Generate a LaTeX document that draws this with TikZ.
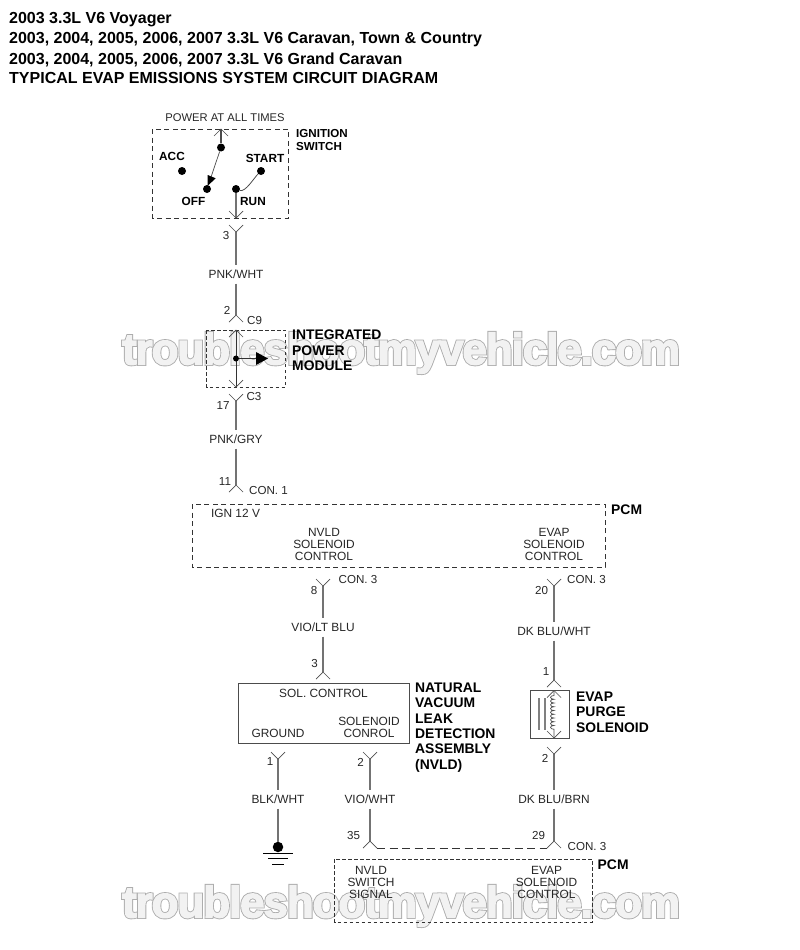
\documentclass[tikz,border=0pt]{standalone}
\usepackage{fontspec}
\setmainfont{Liberation Sans}
\newfontfamily\markfont[FakeBold=7,LetterSpace=-2.5]{Liberation Sans Bold}
\newfontfamily\markfontin[FakeBold=3,LetterSpace=-2.5]{Liberation Sans Bold}
\usetikzlibrary{calc,
	decorations.pathmorphing,
	arrows.meta,
	positioning}
\tikzstyle{lbl}=[inner sep=0, font=\fontsize{11.9}{12}\selectfont, align=center, text=black!85]
\tikzstyle{wlbl}=[lbl, inner xsep=0, inner ysep=4.5pt]
\tikzstyle{pin}=[inner sep=0, font=\fontsize{11.6}{13.5}\selectfont, text=black!85]
\tikzstyle{ttl}=[inner sep=0, anchor=base west, font=\fontsize{16}{20}\selectfont\bfseries]
\tikzstyle{nme}=[inner sep=0, anchor=north west, align=left, font=\fontsize{13.9}{15.4}\selectfont\bfseries]
\tikzstyle{sw}=[inner sep=0, font=\fontsize{11.8}{13.5}\selectfont\bfseries]
\tikzstyle{dot}=[circle, fill=black, inner sep=0, minimum size=8pt]
\tikzstyle{wire}=[draw=black!55, line width=1.1pt]
\tikzstyle{dashbox}=[draw=black!80, line width=0.8pt, dash pattern=on 5pt off 3.5pt]
\tikzstyle{solbox}=[draw=black!70, line width=0.9pt]
\tikzstyle{mrk}=[inner sep=0, anchor=center]
% fork of a connector: up=opens upward, dn=opens downward
\newcommand{\forkup}[1]{\draw[black!70, line width=0.7pt] ($(#1)+(-7,-7)$) -- (#1) -- ($(#1)+(7,-7)$);}
\newcommand{\forkdn}[1]{\draw[black!70, line width=0.7pt] ($(#1)+(-7,7)$) -- (#1) -- ($(#1)+(7,7)$);}
\begin{document}
\begin{tikzpicture}[x=1pt, y=-1pt]
\useasboundingbox (0,0) rectangle (800,950);
% watermark
\foreach \wy/\wname in {353/marka, 906/markb} {
	\node[mrk, text=black!32, font=\markfont\fontsize{44}{44}\selectfont] (\wname) at (401,\wy) {troubleshootmyvehicle.com};
	\node[mrk, text=black!5, font=\markfontin\fontsize{44}{44}\selectfont] (\wname in) at (401,\wy) {troubleshootmyvehicle.com};
}
% title
\node[ttl] (t1) at (9,24) {2003 3.3L V6 Voyager};
\node[ttl] (t2) at (9,44) {2003, 2004, 2005, 2006, 2007 3.3L V6 Caravan, Town \& Country};
\node[ttl] (t3) at (9,64) {2003, 2004, 2005, 2006, 2007 3.3L V6 Grand Caravan};
\node[ttl] (t4) at (9,84) {TYPICAL EVAP EMISSIONS SYSTEM CIRCUIT DIAGRAM};
% ignition switch
\node[lbl, font=\fontsize{11.2}{13.5}\selectfont] (power) at (225,117.5) {POWER AT ALL TIMES};
\draw[dashbox] (152.5,129) rectangle (288.5,218);
\node[nme, font=\fontsize{11.6}{13.2}\selectfont\bfseries] (ign) at (296,129) {IGNITION\\SWITCH};
\node[sw] (acc) at (172,156.5) {ACC};
\node[sw] (start) at (265,158) {START};
\node[sw] (off) at (193.5,201) {OFF};
\node[sw] (run) at (253,201.5) {RUN};
\node[dot] (d1) at (221,147.5) {};
\node[dot] (d2) at (182,171) {};
\node[dot] (d3) at (261,171) {};
\node[dot] (d4) at (207,189) {};
\node[dot] (d5) at (236,189) {};
\coordinate (ptop) at (221,129);
\coordinate (pbot) at (236,218);
\draw[wire, black!70] (ptop) -- (d1);
\forkdn{ptop}
\draw[black!70, line width=0.7pt] (d1) -- (d4);
\fill (207.7,175) -- (215.7,178.3) -- (207.5,186) -- cycle;
\draw[black!70, line width=0.8pt] (d5) to[out=-20, in=225, looseness=0.6] (d3);
\draw[wire] (d5) -- (pbot);
\forkup{pbot}
% PNK/WHT
\coordinate (a1) at (236,232);
\coordinate (a2) at (236,315);
\node[wlbl] (w1) at (236,274.5) {PNK/WHT};
\draw[wire] (a1) -- (w1);
\draw[wire] (w1) -- (a2);
\forkup{a1}
\forkdn{a2}
\node[pin] (p3) at (226,236) {3};
\node[pin] (p2) at (227,310.5) {2};
\node[pin, anchor=west] (c9) at (247,321) {C9};
% integrated power module
\draw[dashbox, dash pattern=on 3.5pt off 2.5pt] (206.5,330) rectangle (285.5,387);
\node[nme] (ipm) at (292,330) {INTEGRATED\\POWER\\MODULE};
\coordinate (m1) at (236,330);
\coordinate (m2) at (236,387);
\draw[black!80, line width=0.9pt] (m1) -- (m2);
\forkdn{m1}
\forkup{m2}
\node[dot, minimum size=6pt] (md) at (236,358.5) {};
\draw[black!80, line width=0.7pt] (md) -- (256,358.5);
\fill (256,352) -- (268,358.5) -- (256,365) -- cycle;
% PNK/GRY
\coordinate (b1) at (236,401);
\coordinate (b2) at (236,485);
\node[wlbl] (w2) at (236,439.5) {PNK/GRY};
\draw[wire] (b1) -- (w2);
\draw[wire] (w2) -- (b2);
\forkup{b1}
\forkdn{b2}
\node[pin] (p17) at (223,405.5) {17};
\node[pin] (p11) at (225,481.5) {11};
\node[pin] (c3) at (254,397) {C3};
\node[pin, anchor=west] (con1) at (249,491) {CON. 1};
% PCM
\draw[dashbox] (192,504) rectangle (605,567);
\node[nme] (pcm1) at (611,504.5) {PCM};
\node[lbl, anchor=north] (ign12) at (235.5,508.5) {IGN 12 V};
\node[lbl, anchor=north] (nvs) at (324,528.5) {NVLD\\SOLENOID\\CONTROL};
\node[lbl, anchor=north] (evs) at (554,528.5) {EVAP\\SOLENOID\\CONTROL};
% VIO/LT BLU
\coordinate (c1) at (323,586);
\coordinate (c2) at (323,672);
\node[wlbl] (w3) at (323,627.5) {VIO/LT BLU};
\draw[wire] (c1) -- (w3);
\draw[wire] (w3) -- (c2);
\forkup{c1}
\forkdn{c2}
\node[pin] (p8) at (314,590) {8};
\node[pin] (p3b) at (314.5,663) {3};
\node[pin, anchor=west] (con3a) at (338.5,579) {CON. 3};
% DK BLU/WHT
\coordinate (e1) at (554,586);
\coordinate (e2) at (554,680);
\node[wlbl] (w4) at (554,631.5) {DK BLU/WHT};
\draw[wire] (e1) -- (w4);
\draw[wire] (w4) -- (e2);
\forkup{e1}
\forkdn{e2}
\node[pin] (p20) at (541.5,590) {20};
\node[pin] (p1) at (546,672) {1};
\node[pin, anchor=west] (con3b) at (567,579) {CON. 3};
% NVLD assembly
\draw[solbox] (238,683) rectangle (409,743);
\node[nme] (nvld) at (415,682.5) {NATURAL\\VACUUM\\LEAK\\DETECTION\\ASSEMBLY\\(NVLD)};
\node[lbl] (solc) at (323.5,693) {SOL. CONTROL};
\node[lbl] (gnd) at (278,733) {GROUND};
\node[lbl] (solr) at (369,727.5) {SOLENOID\\CONROL};
% evap purge solenoid
\draw[solbox] (530.5,690.5) rectangle (569.5,738);
\node[nme] (evp) at (576,691.5) {EVAP\\PURGE\\SOLENOID};
\coordinate (s1) at (554,690.5);
\coordinate (s2) at (554,738);
\draw[black!70, line width=0.7pt, decorate, decoration={bumps, mirror, segment length=7.5pt, amplitude=3.5pt, pre length=5pt, post length=5pt}] (s1) -- (s2);
\forkdn{s1}
\forkup{s2}
\draw[black!50, line width=1.2pt] (539,698) -- (539,730);
\draw[black!50, line width=1.2pt] (545,698) -- (545,730);
% lower wires
\coordinate (g1) at (278,759);
\coordinate (h1) at (370,759);
\coordinate (f1) at (554,754);
\coordinate (h2) at (370,841);
\coordinate (f2) at (554,841);
\node[wlbl] (w5) at (278,799.5) {BLK/WHT};
\node[wlbl] (w6) at (370,799.5) {VIO/WHT};
\node[wlbl] (w7) at (554,799.5) {DK BLU/BRN};
\node[dot, minimum size=10.5pt] (gd) at (278,847) {};
\draw[wire] (g1) -- (w5);
\draw[wire] (w5) -- (gd);
\draw[wire] (h1) -- (w6);
\draw[wire] (w6) -- (h2);
\draw[wire] (f1) -- (w7);
\draw[wire] (w7) -- (f2);
\forkup{g1}
\forkup{h1}
\forkup{f1}
\forkdn{h2}
\forkdn{f2}
\draw[dashbox, dash pattern=on 8pt off 4.5pt] ($(h2)+(7,7)$) -- ($(f2)+(-7,7)$);
\draw[black, line width=1.2pt] (263,853.5) -- (293,853.5);
\draw[black, line width=1.2pt] (268,858.5) -- (288,858.5);
\draw[black, line width=1.2pt] (272,864.5) -- (284,864.5);
\node[pin] (p1b) at (270,762) {1};
\node[pin] (p2b) at (360.5,762) {2};
\node[pin] (p2c) at (545,758) {2};
\node[pin] (p35) at (353.5,835) {35};
\node[pin] (p29) at (538.5,835) {29};
\node[pin, anchor=west] (con3c) at (567.5,846.5) {CON. 3};
% lower PCM
\draw[dashbox, dash pattern=on 3.5pt off 2.5pt] (334.5,859) rectangle (592,922);
\node[nme] (pcm2) at (597.5,859.5) {PCM};
\node[lbl, anchor=north] (nvsw) at (371,866) {NVLD\\SWITCH\\SIGNAL};
\node[lbl, anchor=north] (evsc) at (546.5,866) {EVAP\\SOLENOID\\CONTROL};
\end{tikzpicture}
\end{document}
